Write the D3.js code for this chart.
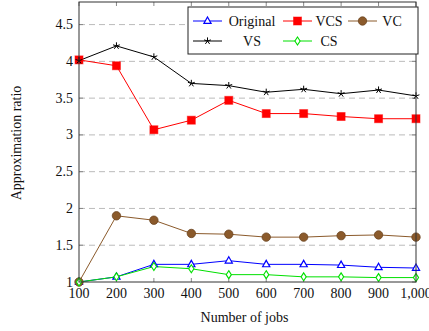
<!DOCTYPE html>
<html>
<head>
<meta charset="utf-8">
<script src="https://cdn.jsdelivr.net/npm/d3@7"></script>
<style>
  body { margin: 0; background: #fff; }
</style>
</head>
<body>
<div class="chart"></div>
<script>
// data
const jobs = [100, 200, 300, 400, 500, 600, 700, 800, 900, 1000];
const original = [1.00, 1.07, 1.24, 1.24, 1.29, 1.24, 1.24, 1.23, 1.20, 1.19];
const vcs = [4.02, 3.94, 3.07, 3.20, 3.47, 3.29, 3.29, 3.25, 3.22, 3.22];
const vc = [1.00, 1.90, 1.84, 1.66, 1.65, 1.61, 1.61, 1.63, 1.64, 1.61];
const vs = [4.01, 4.21, 4.06, 3.70, 3.67, 3.58, 3.62, 3.56, 3.61, 3.53];
const cs = [1.00, 1.07, 1.21, 1.18, 1.10, 1.10, 1.07, 1.07, 1.06, 1.06];
const yTicks = [1, 1.5, 2, 2.5, 3, 3.5, 4, 4.5];

const series = [
  { name: "Original", values: original, color: "#0000ff", mark: "triangle" },
  { name: "VCS", values: vcs, color: "#ff0000", mark: "square" },
  { name: "VC", values: vc, color: "#8b5a2b", mark: "circle" },
  { name: "VS", values: vs, color: "#000000", mark: "star" },
  { name: "CS", values: cs, color: "#00e000", mark: "diamond" }
];

const FONT = "Liberation Serif, DejaVu Serif, serif";
const width = 429, height = 331;
const margin = { top: 2, right: 13, bottom: 49, left: 79 };
const w = width - margin.left - margin.right;
const h = height - margin.top - margin.bottom;

let svg = d3.select(".chart").append("svg")
  .attr("width", width)
  .attr("height", height)
  .attr("font-family", FONT);

let chart = svg.append("g")
  .attr("transform", "translate(" + margin.left + "," + margin.top + ")");

let x = d3.scaleLinear().domain([100, 1000]).range([0, w]);
let y = d3.scaleLinear().domain([1, 4.807]).range([h, 0]);

// grid
chart.selectAll(".grid")
  .data(yTicks.filter(d => d > 1))
  .enter().append("line")
    .attr("x1", 0).attr("x2", w)
    .attr("y1", d => y(d)).attr("y2", d => y(d))
    .attr("stroke", "#bbb")
    .attr("stroke-width", 1)
    .attr("stroke-dasharray", "6,4");

// inner ticks on all sides
let tickLen = 4;
chart.selectAll(".xtb").data(jobs).enter().append("line")
  .attr("x1", d => x(d)).attr("x2", d => x(d))
  .attr("y1", h).attr("y2", h - tickLen)
  .attr("stroke", "#888");
chart.selectAll(".xtt").data(jobs).enter().append("line")
  .attr("x1", d => x(d)).attr("x2", d => x(d))
  .attr("y1", 0).attr("y2", tickLen)
  .attr("stroke", "#888");
chart.selectAll(".ytl").data(yTicks).enter().append("line")
  .attr("x1", 0).attr("x2", tickLen)
  .attr("y1", d => y(d)).attr("y2", d => y(d))
  .attr("stroke", "#888");
chart.selectAll(".ytr").data(yTicks).enter().append("line")
  .attr("x1", w).attr("x2", w - tickLen)
  .attr("y1", d => y(d)).attr("y2", d => y(d))
  .attr("stroke", "#888");

// tick labels
chart.selectAll(".xl").data(jobs).enter().append("text")
  .attr("x", d => x(d))
  .attr("y", h + 16)
  .attr("text-anchor", "middle")
  .attr("font-family", FONT)
  .attr("font-size", 14)
  .attr("fill", "#111")
  .text(d => d3.format(",")(d));
chart.selectAll(".yl").data(yTicks).enter().append("text")
  .attr("x", -6)
  .attr("y", d => y(d) + 4.5)
  .attr("text-anchor", "end")
  .attr("font-family", FONT)
  .attr("font-size", 14)
  .attr("fill", "#111")
  .text(d => d);

// axis labels
svg.append("text")
  .attr("x", margin.left + w / 2 - 3)
  .attr("y", 322)
  .attr("text-anchor", "middle")
  .attr("font-family", FONT)
  .attr("font-size", 14)
  .attr("fill", "#111")
  .text("Number of jobs");
svg.append("text")
  .attr("transform", "translate(21,143) rotate(-90)")
  .attr("text-anchor", "middle")
  .attr("font-family", FONT)
  .attr("font-size", 14)
  .attr("fill", "#111")
  .text("Approximation ratio");

// 5-arm star like pgfplots "star" mark
let starPath = d3.range(5).map(k => {
  let a = -Math.PI / 2 + k * 2 * Math.PI / 5;
  return "M0,0L" + (3.6 * Math.cos(a)).toFixed(2) + "," + (3.6 * Math.sin(a)).toFixed(2);
}).join("");

function drawMark(g, mark, color) {
  if (mark == "triangle") {
    g.append("path").attr("d", "M0,-4L3.6,2.4L-3.6,2.4Z")
      .attr("fill", "#fff").attr("stroke", color).attr("stroke-width", 1.2);
  } else if (mark == "square") {
    g.append("rect").attr("x", -4).attr("y", -4).attr("width", 8).attr("height", 8)
      .attr("fill", color).attr("stroke", color).attr("stroke-opacity", 0.5);
  } else if (mark == "circle") {
    g.append("circle").attr("r", 4.2).attr("fill", color).attr("stroke", "#6b4420").attr("stroke-width", 0.8);
  } else if (mark == "star") {
    g.append("path").attr("d", starPath)
      .attr("fill", "none").attr("stroke", color).attr("stroke-width", 1);
  } else if (mark == "diamond") {
    g.append("path").attr("d", "M0,-4L2.6,0L0,4L-2.6,0Z")
      .attr("fill", "#fff").attr("stroke", color).attr("stroke-width", 1.1);
  }
}

var line = d3.line()
  .x((d, i) => x(jobs[i]))
  .y(d => y(d));

series.forEach(s => {
  chart.append("path")
    .datum(s.values)
    .attr("fill", "none")
    .attr("stroke", s.color)
    .attr("stroke-width", 1)
    .attr("d", line);
});
series.forEach(s => {
  s.values.forEach((v, i) => {
    let g = chart.append("g").attr("transform", "translate(" + x(jobs[i]) + "," + y(v) + ")");
    drawMark(g, s.mark, s.color);
  });
});

// frame
chart.append("rect")
  .attr("width", w).attr("height", h)
  .attr("fill", "none")
  .attr("stroke", "#333")
  .attr("stroke-width", 1);

// legend
let legend = svg.append("g");
legend.append("rect")
  .attr("x", 188).attr("y", 7).attr("width", 230).attr("height", 47)
  .attr("fill", "#fff").attr("stroke", "#222").attr("stroke-width", 1);
const legendPos = [
  { sx: 193, tx: 252, ty: 21 },
  { sx: 283, tx: 329, ty: 21 },
  { sx: 348, tx: 392, ty: 21 },
  { sx: 193, tx: 252, ty: 41 },
  { sx: 283, tx: 329, ty: 41 }
];
series.forEach((s, i) => {
  let p = legendPos[i];
  legend.append("line")
    .attr("x1", p.sx).attr("x2", p.sx + 29)
    .attr("y1", p.ty).attr("y2", p.ty)
    .attr("stroke", s.color).attr("stroke-width", 1);
  let g = legend.append("g").attr("transform", "translate(" + (p.sx + 14.5) + "," + p.ty + ")");
  drawMark(g, s.mark, s.color);
  legend.append("text")
    .attr("x", p.tx).attr("y", p.ty + 5)
    .attr("text-anchor", "middle")
    .attr("font-family", FONT)
    .attr("font-size", 14)
    .attr("fill", "#111")
    .text(s.name);
});
</script>
</body>
</html>
